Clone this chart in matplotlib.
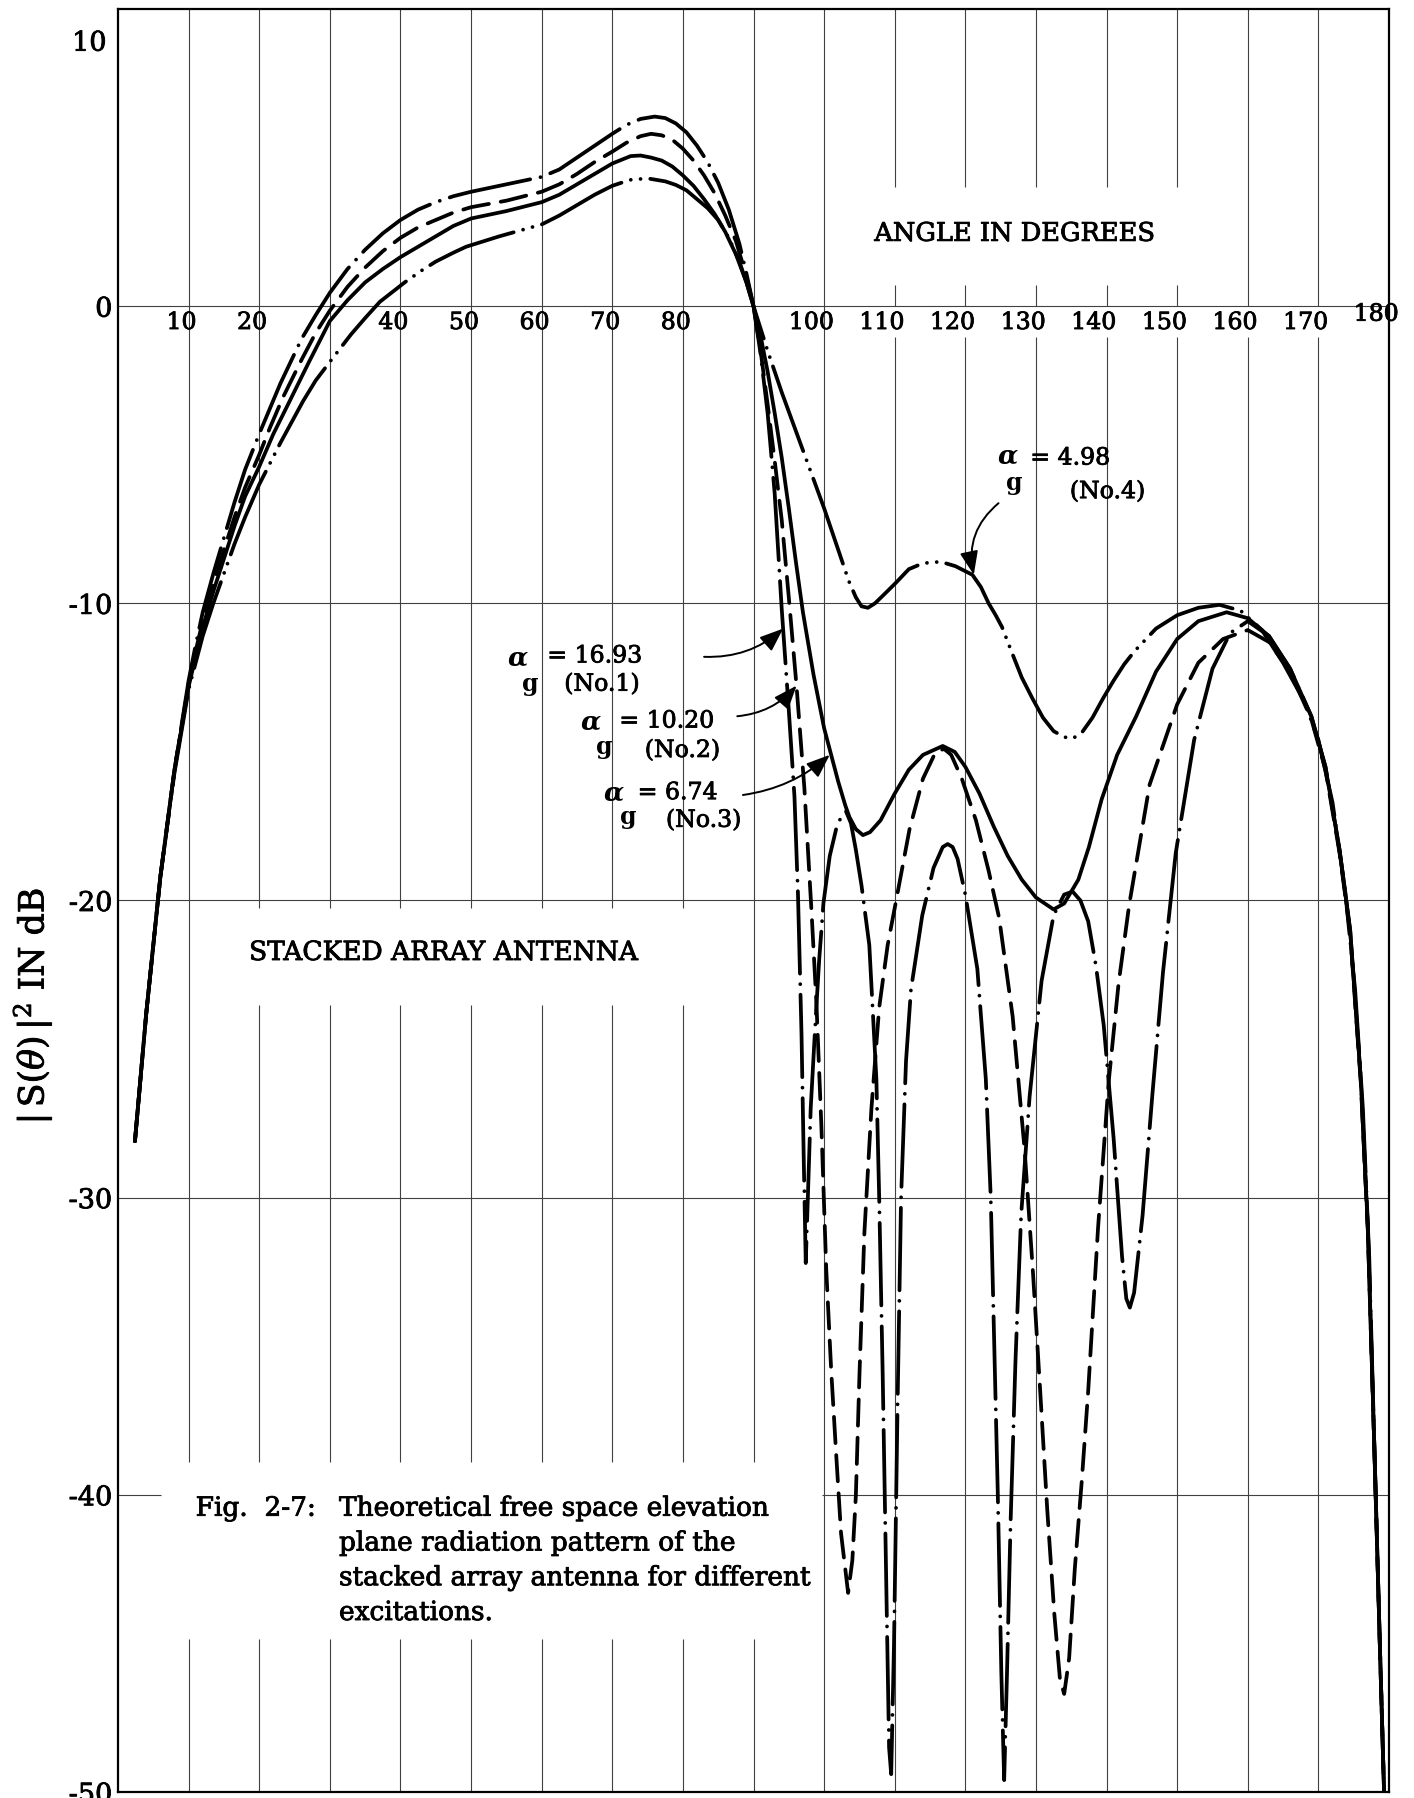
import matplotlib
matplotlib.use("Agg")
import matplotlib.pyplot as plt
import matplotlib.patheffects as pe
from matplotlib.patches import FancyArrowPatch

plt.rcParams['font.family'] = ['DejaVu Serif']
plt.rcParams['mathtext.fontset'] = 'dejavuserif'

# ---------------- pattern data: |S(theta)|^2 in dB versus elevation angle ----------------
# No.1, alpha_g = 16.93 (dash-dot)
angle_no1 = [2.4, 4, 6, 8, 10, 11, 12, 13.5, 15, 16.5, 18, 20, 21.5, 23, 24.5, 26, 28, 30, 32.5,
             35, 37.5, 40, 42.5, 45, 47.5, 50, 55, 60, 62.5, 65, 67.5, 70, 72, 74, 76, 77.5, 79,
             80.5, 82, 83.5, 85, 86.5, 88, 89, 90, 91, 92, 93, 94, 95, 95.8, 96.3, 96.8, 97.1,
             97.4, 97.7, 98.1, 98.7, 99.3, 99.9, 100.8, 101.8, 102.6, 103.1, 103.8, 104.5,
             105.3, 106.4, 107.4, 107.8, 108.3, 108.8, 109.2, 109.5, 109.9, 110.4, 110.9,
             111.6, 112.3, 113.9, 115.5, 116.8, 117.5, 118.2, 118.9, 120, 121.7, 122.9, 123.6,
             124.1, 124.6, 125.1, 125.5, 125.9, 126.4, 127.1, 127.9, 129.1, 130.8, 132.5, 134,
             135.2, 136.3, 137.4, 138.5, 139.6, 141, 142.2, 142.8, 143.3, 143.9, 145.1, 146.5,
             148, 149.8, 152.4, 155, 157.5, 160, 163, 166, 169, 171, 173, 174.5, 176, 177, 178,
             178.7, 179.3]
db_no1 = [-28.1, -23.8, -19.2, -15.6, -12.6, -11.4, -10.3, -9.0, -7.8, -6.6, -5.5, -4.3, -3.45,
          -2.6, -1.85, -1.1, -0.3, 0.45, 1.25, 1.9, 2.45, 2.9, 3.25, 3.5, 3.7, 3.85, 4.1, 4.35,
          4.6, 5.0, 5.4, 5.8, 6.1, 6.3, 6.38, 6.33, 6.15, 5.85, 5.4, 4.85, 4.15, 3.25, 2.1, 1.1,
          0.0, -1.6, -3.6, -6.3, -10.2, -13.6, -16.5, -19.8, -24.5, -28.5, -32.2, -30.0, -27.0,
          -24.4, -22.0, -20.1, -18.5, -17.5, -17.1, -17.0, -17.4, -18.3, -19.5, -21.5, -26.0,
          -30.0, -36.0, -43.0, -48.5, -49.4, -45.0, -37.0, -30.0, -25.4, -23.0, -20.5, -18.9,
          -18.2, -18.1, -18.2, -18.6, -19.8, -22.3, -26.0, -30.0, -35.0, -40.0, -46.0, -49.6,
          -46.0, -41.0, -35.5, -30.6, -26.6, -22.7, -20.5, -19.8, -19.7, -20.0, -20.7, -22.2,
          -24.2, -28.0, -32.0, -33.4, -33.7, -33.2, -30.6, -26.5, -22.4, -18.4, -14.6, -12.2,
          -11.0, -10.6, -11.1, -12.2, -13.8, -15.5, -18.3, -21.0, -26.0, -31.0, -39.0, -45.0,
          -50.0]

# No.2, alpha_g = 10.20 (dashed)
angle_no2 = [2.4, 4, 6, 8, 10, 11, 12, 13.5, 15, 16.5, 18, 20, 21.5, 23.4, 26, 28, 30, 32.5, 35,
             37.5, 40, 42.5, 45, 47.5, 50, 55, 60, 62.5, 65, 67.5, 70, 72, 74, 75.5, 77, 78.5,
             80, 81.5, 83, 84.5, 86, 87.5, 89, 90, 91, 92, 93, 94, 95, 96.1, 97.2, 98.2, 98.9,
             99.6, 100.3, 101, 101.7, 102.4, 103.4, 104.0, 104.5, 105, 105.7, 106.7, 107.8,
             109, 110.2, 112.1, 114, 115.8, 117, 118, 119.5, 121.5, 123.3, 124.8, 126.7, 128.4,
             129.6, 130.6, 131.6, 132.6, 133.4, 134.0, 134.7, 135.5, 136.5, 137.4, 138.8, 140.3,
             141.7, 143.2, 146.1, 150, 153, 156.5, 160, 163, 166, 169, 171, 173, 174.5, 176, 177,
             178, 178.7, 179.3]
db_no2 = [-28.1, -23.8, -19.2, -15.6, -12.7, -11.6, -10.6, -9.35, -8.2, -7.1, -6.1, -5.0, -4.1,
          -3.05, -1.8, -0.9, -0.15, 0.65, 1.3, 1.85, 2.3, 2.65, 2.9, 3.15, 3.33, 3.55, 3.85, 4.1,
          4.45, 4.85, 5.2, 5.5, 5.72, 5.8, 5.75, 5.6, 5.3, 4.9, 4.4, 3.8, 3.05, 2.2, 1.0, 0.0,
          -1.5, -3.3, -5.2, -7.2, -9.8, -12.8, -16.2, -20.3, -23.4, -27.5, -32.4, -35.8, -38.6,
          -41.3, -43.3, -42.2, -40.0, -36.0, -31.2, -27.0, -23.6, -21.5, -20.0, -17.6, -15.9,
          -15.0, -14.9, -15.1, -15.9, -17.3, -19.0, -20.6, -23.9, -28.4, -32.6, -36.5, -40.5,
          -44.0, -46.2, -46.7, -45.5, -42.5, -39.5, -36.5, -31.0, -26.1, -22.8, -20.15, -16.1,
          -13.4, -12.0, -11.2, -10.9, -11.3, -12.3, -13.9, -15.6, -18.4, -21.1, -26.1, -31.1,
          -39.1, -45.0, -50.0]

# No.3, alpha_g = 6.74 (solid)
angle_no3 = [2.4, 4, 6, 8, 10, 11, 12, 13.5, 15, 16.5, 18, 20, 22, 24.3, 27, 30, 32.5, 35, 37.5,
             40, 42.5, 45, 47.5, 50, 55, 60, 62.5, 65, 67.5, 70, 72.6, 74, 75.5, 77, 78.5, 80,
             81.5, 83, 84.5, 86, 87.5, 89, 90, 91, 92, 93, 94, 95, 96, 97, 98.5, 100, 101,
             102, 103, 103.6, 104.5, 105.5, 106.5, 108, 110, 112, 114, 116.8, 118.5, 120, 122,
             124, 126, 128, 130, 132.5, 134, 136, 137.5, 139.3, 141.5, 144.2, 147, 150, 153, 157,
             160, 163, 166, 169, 171, 173, 174.5, 176, 177, 178, 178.7, 179.3]
db_no3 = [-28.1, -23.8, -19.2, -15.6, -12.8, -11.8, -10.8, -9.6, -8.5, -7.4, -6.4, -5.4, -4.3,
          -3.2, -1.9, -0.5, 0.2, 0.8, 1.25, 1.65, 2.0, 2.35, 2.7, 2.95, 3.2, 3.5, 3.75, 4.1,
          4.45, 4.8, 5.05, 5.07, 5.0, 4.9, 4.7, 4.4, 4.05, 3.6, 3.1, 2.5, 1.75, 0.8, 0.0, -1.0,
          -2.2, -3.6, -5.1, -6.8, -8.6, -10.3, -12.4, -14.2, -15.1, -16.0, -16.8, -17.2, -17.6,
          -17.8, -17.7, -17.3, -16.4, -15.6, -15.1, -14.8, -15.0, -15.5, -16.4, -17.5, -18.5,
          -19.3, -19.9, -20.3, -20.1, -19.3, -18.2, -16.6, -15.1, -13.8, -12.3, -11.2, -10.6,
          -10.3, -10.5, -11.1, -12.2, -13.8, -15.5, -18.3, -21.0, -26.0, -31.0, -39.0, -45.0,
          -50.0]

# No.4, alpha_g = 4.98 (dash-dot-dot)
angle_no4 = [2.4, 4, 6, 8, 10, 11, 12, 13.5, 15, 16.5, 18, 20, 21.5, 23, 26.2, 28, 30.4, 33, 35,
             37.1, 40.6, 43, 45, 47.5, 49.3, 54, 60, 62.5, 65, 67.5, 70, 72.5, 75, 77.5, 79, 80.5,
             82, 83.5, 85, 86.5, 88, 89, 90, 92, 94, 96, 98, 100, 102, 103.5, 104.5, 105.3,
             106.2, 107.2, 108.5, 110.2, 112, 114, 116.5, 118.6, 121, 122.2, 123.3, 124.3, 125.2,
             126.5, 128, 129.5, 131, 132.5, 134, 135.2, 136.5, 138, 139.5, 141, 142.5, 144, 147,
             150, 153, 156, 159, 162, 165, 168, 170, 172, 173.8, 175.2, 176.3, 177.2, 178, 178.7,
             179.3]
db_no4 = [-28.1, -23.8, -19.2, -15.7, -12.9, -12.0, -11.1, -10.0, -9.0, -8.0, -7.1, -6.0, -5.3,
          -4.6, -3.2, -2.5, -1.75, -0.95, -0.4, 0.15, 0.8, 1.2, 1.5, 1.8, 2.0, 2.35, 2.75, 3.05,
          3.4, 3.75, 4.05, 4.25, 4.3, 4.2, 4.08, 3.9, 3.6, 3.3, 2.9, 2.3, 1.5, 0.8, 0.0, -1.5,
          -2.9, -4.2, -5.5, -6.8, -8.2, -9.25, -9.8, -10.1, -10.15, -10.0, -9.7, -9.3, -8.85,
          -8.65, -8.6, -8.75, -9.04, -9.45, -10.0, -10.4, -10.8, -11.6, -12.5, -13.2, -13.85,
          -14.3, -14.5, -14.55, -14.35, -13.85, -13.2, -12.6, -12.05, -11.6, -10.85, -10.4,
          -10.15, -10.05, -10.25, -10.9, -12.0, -13.3, -14.6, -16.7, -19.7, -23.0, -27.0, -32.0,
          -39.0, -45.0, -50.0]

alpha_values = ['16.93', '10.20', '6.74', '4.98']
excitation_names = ['(No.1)', '(No.2)', '(No.3)', '(No.4)']

x_tick_values = [10, 20, 40, 50, 60, 70, 80, 100, 110, 120, 130, 140, 150, 160, 170, 180]
y_tick_values = [0, -10, -20, -30, -40, -50]
y_tick_labels = ['0', '-10', '-20', '-30', '-40', '-50']

# ---------------- figure ----------------
W, H = 1414, 1798
fig = plt.figure(figsize=(W / 100, H / 100), dpi=100, facecolor='white')
ax = fig.add_axes([118 / W, 6 / H, 1271 / W, 1783 / H])
ax.set_xlim(0, 180)
ax.set_ylim(-50, 10)
for s in ax.spines.values():
    s.set_linewidth(1.6)
    s.set_color('black')

ink = [pe.withStroke(linewidth=0.6, foreground='black')]

ax.set_xticks([])
ax.set_yticks(y_tick_values, labels=y_tick_labels)
ax.tick_params(axis='y', length=0, pad=4, labelsize=19.5)
for lbl in ax.get_yticklabels():
    lbl.set_path_effects(ink)
ax.text(-0.009, 8.85, '10', transform=ax.get_yaxis_transform(), ha='right', va='center',
        fontsize=19.5, path_effects=ink)

GRID_KW = dict(color='0.25', lw=0.8, zorder=1, solid_capstyle='butt')


def vgrid(x, gaps):
    y0 = -50
    for g0, g1 in sorted(gaps):
        ax.plot([x, x], [y0, g0], **GRID_KW)
        y0 = g1
    ax.plot([x, x], [y0, 10], **GRID_KW)


for xv in range(10, 180, 10):
    gaps = []
    if xv <= 90:
        gaps.append((-44.85, -38.9))          # caption block
    if 20 <= xv <= 80:
        gaps.append((-23.5, -20.25))          # "STACKED ARRAY ANTENNA"
    if 110 <= xv <= 150:
        gaps.append((0.7, 4.0))               # "ANGLE IN DEGREES"
    if xv >= 110:
        gaps.append((-1.05, 0.0))             # angle numbers
    vgrid(xv, gaps)

for yv in (0, -10, -20, -30):
    ax.plot([0, 180], [yv, yv], **GRID_KW)
ax.plot([0, 6.1], [-40, -40], **GRID_KW)
ax.plot([99.7, 180], [-40, -40], **GRID_KW)

# angle numbers written just under the 0 dB line
for v in x_tick_values:
    off = 1.0 if v < 100 else 1.8
    yy = -0.27 if v == 180 else -0.55
    ax.text(v - off, yy, str(v), ha='center', va='center', fontsize=17, zorder=3,
            path_effects=ink)

# ---------------- curves ----------------
LW = 2.7
styles = [
    (angle_no1, db_no1, (0, (22, 2.8, 0.01, 2.8))),
    (angle_no2, db_no2, (0, (7, 3.2))),
    (angle_no3, db_no3, '-'),
    (angle_no4, db_no4, (0, (24, 2.6, 0.01, 2.6, 0.01, 2.6))),
]
for ang, db, ls in styles:
    ax.plot(ang, db, color='black', lw=LW, linestyle=ls, dash_capstyle='round',
            solid_capstyle='round', solid_joinstyle='round', dash_joinstyle='round', zorder=4)

# ---------------- annotations ----------------
label_pos = [
    # alpha symbol, subscript g, "= value", "(No.n)" start, arrow start, arrow tip, rad
    ((56.6, -11.85), (58.4, -12.72), (60.8, -11.77), (63.2, -12.72), (83.0, -11.8), (94.2, -10.85), 0.2),
    ((67.0, -14.0), (68.8, -14.85), (71.0, -13.96), (74.6, -14.95), (87.7, -13.8), (96.1, -12.77), 0.2),
    ((70.2, -16.38), (72.2, -17.2), (73.6, -16.37), (77.6, -17.3), (88.5, -16.45), (100.8, -15.1), 0.15),
    ((126.0, -5.05), (126.9, -5.95), (129.2, -5.11), (134.8, -6.24), (124.7, -6.63), (121.2, -9.04), 0.3),
]
for (a_xy, g_xy, eq_xy, no_xy, a0, a1, rad), val, name in zip(label_pos, alpha_values,
                                                                excitation_names):
    ax.text(*a_xy, 'α', ha='center', va='center', fontsize=19, fontweight='bold',
            fontstyle='italic', zorder=5)
    ax.text(*g_xy, 'g', ha='center', va='center', fontsize=17, fontweight='bold', zorder=5)
    ax.text(*eq_xy, '= ' + val, ha='left', va='center', fontsize=17, zorder=5,
            path_effects=ink)
    ax.text(*no_xy, name, ha='left', va='center', fontsize=17, zorder=5, path_effects=ink)
    arr = FancyArrowPatch(a0, a1, arrowstyle='-|>,head_length=0.9,head_width=0.35',
                          mutation_scale=16, connectionstyle=f'arc3,rad={rad}',
                          color='black', lw=1.4, shrinkA=0, shrinkB=0, zorder=5)
    ax.add_patch(arr)

ax.text(127.0, 2.45, 'ANGLE IN DEGREES', ha='center', va='center', fontsize=18.5, zorder=5,
        path_effects=ink)
ax.text(46.1, -21.75, 'STACKED ARRAY ANTENNA', ha='center', va='center', fontsize=19, zorder=5,
        path_effects=ink)

ax.text(11.0, -40.45, 'Fig.  2-7:', ha='left', va='center', fontsize=19, zorder=5,
        path_effects=ink)
caption_lines = ['Theoretical free space elevation', 'plane radiation pattern of the',
                 'stacked array antenna for different', 'excitations.']
for i, line in enumerate(caption_lines):
    ax.text(31.3, -40.45 - 1.17 * i, line, ha='left', va='center', fontsize=19, zorder=5,
            path_effects=ink)

fig.text(32 / W, 1 - 1006 / H, r'$|\,\mathrm{S}(\theta)\,|^{2}$ IN dB', rotation=90,
         ha='center', va='center', fontsize=25, path_effects=ink)

fig.savefig('out.png', dpi=100, facecolor='white')
